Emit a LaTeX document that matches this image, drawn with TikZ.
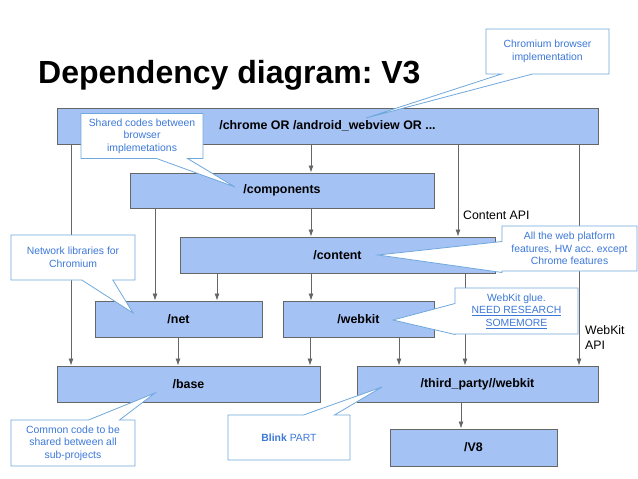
\documentclass[tikz,border=0pt]{standalone}
\usepackage{fontspec}
\setmainfont{Liberation Sans}
\usetikzlibrary{shapes.callouts,arrows.meta}
\definecolor{boxblue}{HTML}{A4C2F4}
\definecolor{boxline}{HTML}{666666}
\definecolor{noteline}{HTML}{6FA8DC}
\definecolor{notetext}{HTML}{3C78D8}
\frenchspacing
\begin{document}
\begin{tikzpicture}[x=1pt,y=-1pt,
    pkg/.style={draw=boxline,fill=boxblue,line width=0.9pt,inner sep=0pt,font=\fontsize{12.4}{14}\selectfont\bfseries},
    note/.style={rectangle callout,draw=noteline,fill=white,line width=0.8pt,text=notetext,align=center,inner sep=0pt,
        font=\fontsize{10.4}{12.6}\selectfont,callout pointer width=31pt},
    dep/.style={draw=boxline,line width=0.8pt,-{Latex[length=7pt,width=5pt]}}]
    \useasboundingbox (0,0) rectangle (638,479);
    \node[anchor=base west,inner sep=0pt,font=\fontsize{32}{36}\selectfont\bfseries] (title) at (38,83) {Dependency diagram: V3};

    \node[pkg,minimum width=541pt,minimum height=36pt] (chrome) at (327.5,126) {/chrome OR /android\_webview OR ...};
    \node[pkg,minimum width=304pt,minimum height=35pt] (components) at (282,190.5) {/components};
    \node[pkg,minimum width=315pt,minimum height=36pt] (content) at (337.5,255) {/content};
    \node[pkg,minimum width=167pt,minimum height=36pt] (net) at (178.5,319) {/net};
    \node[pkg,minimum width=151pt,minimum height=36pt] (webkit) at (358.5,319) {/webkit};
    \node[pkg,minimum width=263pt,minimum height=36pt] (base) at (188.5,384) {/base};
    \node[pkg,minimum width=241pt,minimum height=36pt] (thirdparty) at (477.5,384) {/third\_party//webkit};
    \node[pkg,minimum width=167pt,minimum height=37pt] (veight) at (473.5,447.5) {/V8};

    \foreach \from/\to/\x in {chrome/base/71, chrome/components/311, chrome/content/458, chrome/thirdparty/579,
        components/net/155, components/content/311, content/net/217, content/webkit/311, content/thirdparty/465,
        net/base/178, webkit/base/310, webkit/thirdparty/399, thirdparty/veight/461}
    {
        \path (\x,0) coordinate (col);
        \draw[dep] (\from.south -| col) -- (\to.north -| col);
    }

    \node[anchor=west,inner sep=0pt,font=\fontsize{12.3}{14}\selectfont] (contentapi) at (463,215) {Content API};
    \node[anchor=north west,inner sep=0pt,align=left,font=\fontsize{12.3}{15}\selectfont] (webkitapi) at (585,325) {WebKit\\API};

    \node[note,minimum width=123pt,minimum height=45pt,callout absolute pointer={(366,118)}] (chromiumnote) at (547.5,51.5) {Chromium browser\\implementation};
    \node[note,minimum width=122pt,minimum height=45pt,callout absolute pointer={(235,187)}] (sharednote) at (142,136) {Shared codes between\\browser\\implemetations};
    \node[note,minimum width=124pt,minimum height=45pt,callout absolute pointer={(133,313)}] (netnote) at (73,257.5) {Network libraries for\\Chromium};
    \node[note,minimum width=135pt,minimum height=45pt,callout absolute pointer={(378,255)}] (webnote) at (569.5,248.5) {All the web platform\\features, HW acc. except\\Chrome features};
    \node[note,minimum width=123pt,minimum height=46pt,callout absolute pointer={(393,320)}] (gluenote) at (516.5,311) {WebKit glue.\\\underline{NEED RESEARCH}\\\underline{SOMEMORE}};
    \node[note,minimum width=124pt,minimum height=46pt,callout absolute pointer={(155,393)}] (commonnote) at (73,443) {Common code to be\\shared between all\\sub-projects};
    \node[note,minimum width=122pt,minimum height=45pt,callout absolute pointer={(382,387)}] (blinknote) at (289,437.5) {\textbf{Blink} PART};
\end{tikzpicture}
\end{document}
